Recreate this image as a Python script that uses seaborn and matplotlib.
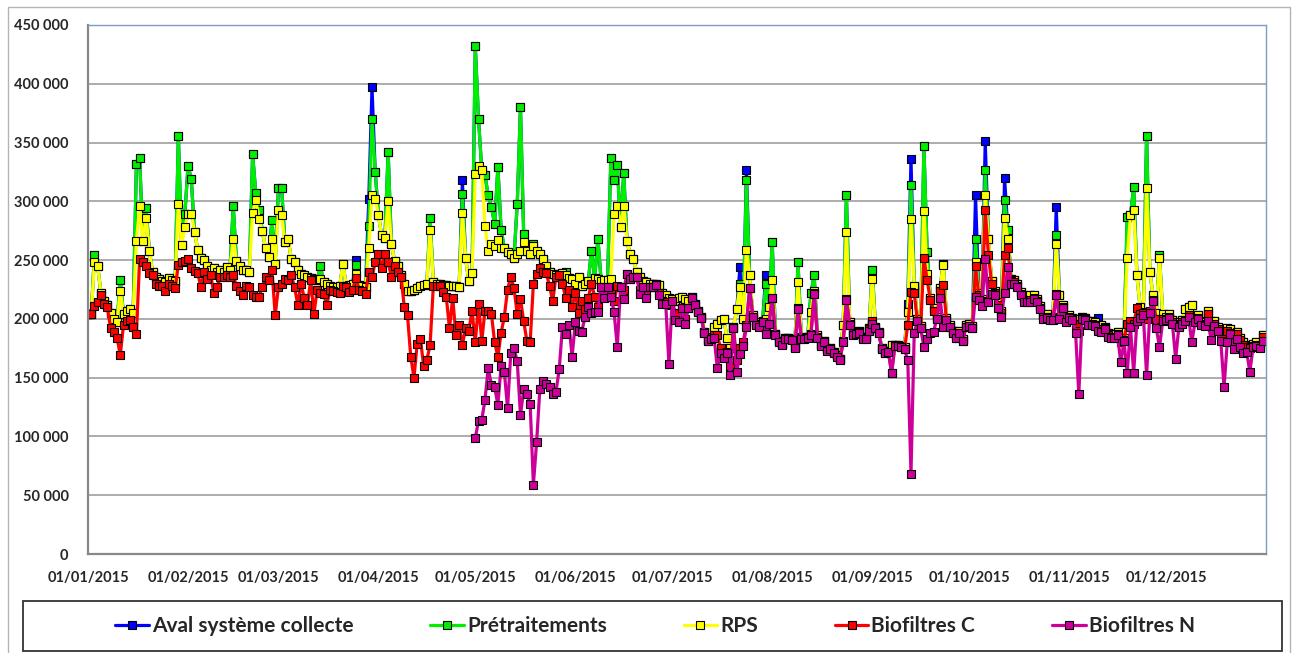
import matplotlib
matplotlib.use("Agg")
import matplotlib.dates as mdates
import matplotlib.pyplot as plt
import numpy as np
import pandas as pd
import seaborn as sns
from matplotlib.patches import Rectangle
from matplotlib.ticker import FuncFormatter, MultipleLocator

# daily flows 2015, values in thousands (one line per month)
aval = [
    204, 204, 254, 245, 222, 215, 212, 205, 200, 197, 233, 204, 207, 208, 205, 332, 337, 266, 294, 258, 240, 236, 234, 232, 231, 235, 233, 232, 356, 263, 289,
    330, 319, 274, 259, 252, 250, 245, 242, 243, 240, 242, 240, 244, 242, 296, 249, 245, 242, 242, 240, 340, 307, 293, 275, 260, 253, 284, 247,
    311, 311, 265, 268, 251, 248, 242, 238, 237, 236, 235, 234, 233, 245, 231, 230, 228, 227, 227, 228, 247, 228, 229, 230, 250, 229, 228, 227, 302, 397, 325,
    288, 271, 269, 342, 264, 249, 245, 237, 230, 224, 224, 225, 226, 228, 229, 230, 286, 231, 230, 230, 229, 229, 228, 228, 228, 227, 318, 252, 232, 239,
    432, 370, 327, 322, 305, 295, 281, 329, 276, 260, 257, 255, 252, 298, 380, 272, 258, 255, 264, 258, 255, 251, 245, 240, 238, 237, 236, 239, 240, 235, 234,
    230, 236, 228, 230, 232, 258, 235, 268, 232, 233, 233, 337, 318, 331, 278, 324, 266, 255, 251, 240, 236, 232, 231, 230, 230, 230, 229, 222, 220, 218,
    217, 215, 218, 219, 217, 215, 219, 213, 207, 202, 189, 182, 184, 193, 196, 199, 200, 184, 175, 193, 208, 244, 200, 327, 237, 203, 197, 195, 198, 237, 210,
    265, 187, 181, 179, 184, 184, 183, 176, 248, 185, 184, 185, 222, 237, 186, 178, 181, 174, 175, 172, 169, 166, 195, 305, 197, 188, 189, 190, 185, 185, 192,
    242, 193, 189, 175, 172, 173, 178, 178, 178, 177, 176, 213, 336, 228, 200, 194, 347, 257, 218, 209, 202, 226, 247, 201, 195, 190, 186, 190, 183, 195,
    196, 194, 305, 222, 217, 351, 268, 232, 224, 214, 207, 320, 276, 234, 233, 230, 223, 218, 218, 220, 220, 217, 211, 203, 204, 202, 202, 295, 220, 212, 200,
    203, 201, 198, 200, 202, 201, 198, 198, 197, 201, 195, 193, 188, 187, 187, 189, 183, 184, 287, 288, 312, 237, 210, 206, 356, 240, 220, 205, 254, 204,
    202, 204, 199, 197, 196, 199, 208, 210, 212, 200, 203, 198, 197, 207, 198, 198, 193, 190, 188, 192, 191, 187, 189, 184, 180, 178, 177, 179, 180, 178, 186,
]

pretraitements = [
    204, 204, 254, 245, 222, 215, 212, 205, 200, 197, 233, 204, 207, 208, 205, 332, 337, 266, 294, 258, 240, 236, 234, 232, 231, 235, 233, 232, 356, 263, 289,
    330, 319, 274, 259, 252, 250, 245, 242, 243, 240, 242, 240, 244, 242, 296, 249, 245, 242, 242, 240, 340, 307, 293, 275, 260, 253, 284, 247,
    311, 311, 265, 268, 251, 248, 242, 238, 237, 236, 235, 234, 233, 245, 231, 230, 228, 227, 227, 228, 247, 228, 229, 230, 246, 229, 228, 227, 279, 370, 325,
    288, 271, 269, 342, 264, 249, 245, 237, 230, 224, 224, 225, 226, 228, 229, 230, 286, 231, 230, 230, 229, 229, 228, 228, 228, 227, 306, 252, 232, 239,
    432, 370, 327, 322, 305, 295, 281, 329, 276, 260, 257, 255, 252, 298, 380, 272, 258, 255, 264, 258, 255, 251, 245, 240, 238, 237, 236, 239, 240, 235, 234,
    230, 236, 228, 230, 232, 258, 235, 268, 232, 233, 233, 337, 318, 331, 278, 324, 266, 255, 251, 240, 236, 232, 231, 230, 230, 230, 229, 222, 220, 218,
    217, 215, 218, 219, 217, 215, 219, 213, 207, 202, 189, 182, 184, 193, 196, 199, 200, 184, 175, 193, 208, 230, 200, 318, 237, 203, 197, 195, 198, 230, 210,
    265, 187, 181, 179, 184, 184, 183, 176, 248, 185, 184, 185, 222, 237, 186, 178, 181, 174, 175, 172, 169, 166, 195, 305, 197, 188, 189, 190, 185, 185, 192,
    242, 193, 189, 175, 172, 173, 178, 178, 178, 177, 176, 207, 314, 228, 200, 194, 347, 257, 218, 209, 202, 226, 247, 201, 195, 190, 186, 190, 183, 195,
    196, 194, 268, 222, 217, 327, 268, 232, 224, 214, 207, 301, 276, 234, 233, 230, 223, 218, 218, 220, 220, 217, 211, 203, 204, 202, 202, 271, 220, 212, 200,
    203, 201, 198, 200, 202, 201, 198, 198, 197, 195, 195, 193, 188, 187, 187, 189, 183, 184, 287, 288, 312, 237, 210, 206, 356, 240, 220, 205, 254, 204,
    202, 204, 199, 197, 196, 199, 208, 210, 212, 200, 203, 198, 197, 207, 198, 198, 193, 190, 188, 192, 191, 187, 189, 184, 180, 178, 177, 179, 180, 178, 186,
]

rps = [
    204, 204, 248, 245, 222, 215, 212, 205, 200, 197, 224, 204, 207, 208, 205, 266, 296, 266, 286, 258, 240, 236, 234, 232, 231, 235, 233, 232, 298, 263, 278,
    289, 289, 274, 259, 252, 250, 245, 242, 243, 240, 242, 240, 244, 242, 268, 249, 245, 242, 242, 240, 290, 301, 285, 275, 260, 253, 268, 247,
    293, 288, 265, 268, 251, 248, 242, 238, 237, 236, 235, 234, 233, 234, 231, 230, 228, 227, 227, 228, 247, 228, 229, 230, 238, 229, 228, 227, 260, 305, 302,
    288, 271, 269, 300, 264, 249, 245, 237, 230, 224, 224, 225, 226, 228, 229, 230, 276, 231, 230, 230, 229, 229, 228, 228, 228, 227, 290, 252, 232, 239,
    323, 330, 327, 279, 258, 264, 262, 267, 260, 260, 257, 255, 252, 255, 258, 265, 258, 255, 262, 258, 255, 251, 245, 240, 238, 237, 236, 239, 237, 235, 234,
    230, 236, 228, 230, 232, 230, 235, 234, 232, 233, 233, 234, 289, 296, 278, 296, 266, 255, 251, 240, 236, 232, 231, 230, 230, 230, 229, 222, 220, 218,
    217, 215, 218, 219, 217, 215, 219, 213, 207, 202, 189, 182, 184, 193, 196, 199, 200, 184, 175, 193, 208, 227, 200, 259, 237, 203, 197, 195, 198, 200, 210,
    233, 187, 181, 179, 184, 184, 183, 176, 231, 185, 184, 185, 206, 224, 186, 178, 181, 174, 175, 172, 169, 166, 195, 274, 197, 188, 189, 190, 185, 185, 192,
    234, 193, 189, 175, 172, 173, 178, 178, 178, 177, 176, 206, 285, 228, 200, 194, 292, 238, 218, 209, 202, 226, 246, 201, 195, 190, 186, 190, 183, 195,
    196, 194, 248, 222, 217, 305, 268, 232, 224, 214, 207, 286, 268, 234, 233, 230, 223, 218, 218, 220, 220, 217, 211, 203, 204, 202, 202, 264, 220, 212, 200,
    203, 201, 198, 200, 202, 201, 198, 198, 197, 195, 195, 193, 188, 187, 187, 189, 183, 184, 252, 288, 293, 237, 210, 206, 311, 240, 220, 205, 252, 204,
    202, 204, 199, 197, 196, 199, 208, 210, 212, 200, 203, 198, 197, 207, 198, 198, 193, 190, 188, 192, 191, 187, 189, 184, 180, 178, 177, 179, 180, 178, 186,
]

biofiltres_c = [
    204, 204, 211, 214, 220, 213, 210, 192, 189, 184, 169, 195, 198, 199, 193, 187, 251, 248, 245, 239, 237, 230, 228, 228, 224, 230, 228, 226, 246, 248, 249,
    251, 243, 241, 239, 227, 240, 234, 237, 222, 227, 236, 236, 237, 236, 237, 228, 224, 220, 228, 227, 220, 219, 219, 227, 236, 233, 242, 203,
    227, 230, 234, 233, 237, 227, 212, 230, 218, 212, 233, 204, 225, 222, 221, 212, 225, 224, 223, 222, 228, 227, 223, 225, 235, 225, 224, 221, 240, 236, 248,
    255, 243, 255, 248, 236, 245, 240, 236, 210, 203, 168, 150, 179, 183, 160, 165, 178, 228, 228, 228, 223, 219, 192, 218, 186, 195, 178, 192, 190, 207,
    180, 213, 181, 207, 207, 204, 180, 168, 188, 202, 225, 236, 226, 204, 217, 198, 181, 180, 230, 238, 243, 240, 239, 228, 215, 236, 237, 230, 218, 225, 210,
    222, 205, 215, 208, 218, 230, 219, 210, 227, 222, 227, 225, 215, 228, 227, 225, 238, 234, 236, 236, 225, 227, 222, 227, 227, 229, 222, 215, 214, 212,
    215, 205, 205, 209, 200, 209, 218, 212, 206, 201, 188, 181, 185, 186, 186, 175, 170, 172, 160, 192, 165, 175, 180, 195, 226, 202, 196, 194, 197, 188, 196,
    218, 187, 181, 179, 184, 184, 183, 176, 209, 184, 184, 185, 187, 222, 185, 178, 181, 174, 175, 172, 169, 166, 181, 217, 196, 187, 188, 189, 184, 184, 191,
    198, 192, 188, 174, 171, 172, 154, 177, 177, 176, 174, 195, 223, 222, 198, 192, 252, 233, 216, 207, 200, 224, 229, 199, 193, 188, 184, 188, 181, 193,
    194, 192, 245, 220, 215, 293, 254, 230, 222, 212, 205, 254, 260, 232, 231, 228, 221, 215, 215, 216, 218, 215, 209, 201, 202, 200, 200, 221, 201, 210, 198,
    202, 200, 196, 190, 201, 200, 196, 196, 195, 191, 190, 192, 186, 185, 185, 187, 180, 182, 196, 198, 196, 209, 204, 205, 200, 207, 216, 200, 200, 200,
    200, 202, 197, 195, 194, 197, 199, 203, 198, 198, 201, 196, 195, 204, 196, 196, 191, 188, 186, 190, 188, 185, 187, 182, 178, 176, 175, 177, 178, 176, 185,
]

# Biofiltres N only measured from 01/05/2015
biofiltres_n = [
    99, 113, 114, 131, 158, 144, 142, 127, 160, 155, 124, 171, 175, 164, 118, 140, 136, 128, 59, 95, 140, 147, 145, 142, 136, 138, 157, 193, 187, 195, 168,
    197, 190, 189, 202, 210, 205, 206, 206, 227, 218, 227, 219, 206, 176, 227, 217, 238, 234, 236, 236, 221, 227, 218, 227, 227, 229, 220, 213, 213, 162,
    215, 199, 197, 209, 196, 209, 218, 212, 206, 201, 188, 181, 183, 184, 158, 171, 167, 171, 152, 192, 155, 170, 177, 193, 226, 202, 195, 193, 197, 187, 196,
    218, 186, 180, 178, 183, 183, 182, 175, 208, 183, 183, 184, 186, 221, 184, 177, 180, 173, 174, 171, 168, 165, 180, 216, 195, 186, 187, 188, 183, 183, 190,
    196, 192, 188, 174, 171, 172, 154, 177, 177, 176, 174, 165, 68, 188, 198, 192, 176, 183, 188, 189, 200, 218, 193, 199, 193, 188, 184, 188, 181, 193,
    194, 192, 219, 216, 211, 251, 214, 221, 220, 209, 202, 222, 244, 230, 230, 227, 220, 214, 214, 214, 217, 214, 208, 200, 201, 199, 199, 220, 200, 209, 197,
    201, 199, 188, 136, 200, 199, 195, 195, 194, 190, 189, 191, 185, 184, 184, 186, 163, 181, 154, 193, 154, 198, 201, 203, 152, 205, 215, 192, 176, 198,
    199, 201, 196, 166, 193, 196, 198, 202, 180, 197, 200, 195, 194, 198, 182, 194, 190, 181, 142, 180, 187, 174, 183, 176, 171, 172, 155, 176, 177, 175, 181,
]

labels = ["Aval système collecte", "Prétraitements", "RPS", "Biofiltres C", "Biofiltres N"]
colors = ["#0000ff", "#00ee00", "#ffff00", "#ff0000", "#cc0099"]

dates = pd.date_range("2015-01-01", "2015-12-31", freq="D")
dates_n = pd.date_range("2015-05-01", "2015-12-31", freq="D")
month_ticks = pd.date_range("2015-01-01", "2015-12-01", freq="MS")

sns.set_style("white")
plt.rcParams["font.family"] = ["Lato", "DejaVu Sans"]

W, H = 1298, 653
fig = plt.figure(figsize=(W / 100, H / 100), dpi=100)
ax = fig.add_axes([88 / W, 1 - 554 / H, (1266 - 88) / W, (554 - 25) / H])

series = [aval, pretraitements, rps, biofiltres_c, biofiltres_n]
for vals, label, color in zip(series, labels, colors):
    x = dates_n if len(vals) == len(dates_n) else dates
    sns.lineplot(
        x=x, y=np.array(vals) * 1000, ax=ax, color=color, lw=2.3,
        marker="s", ms=5.6, mfc=color, mec="black", mew=0.8,
        errorbar=None, legend=False,
    )

ax.set_xlim(pd.Timestamp("2015-01-01"), pd.Timestamp("2016-01-01"))
ax.set_ylim(0, 450000)
ax.yaxis.set_major_locator(MultipleLocator(50000))
ax.yaxis.set_major_formatter(FuncFormatter(lambda v, p: f"{int(v):,}".replace(",", " ")))
ax.set_xticks(month_ticks)
ax.xaxis.set_major_formatter(mdates.DateFormatter("%d/%m/%Y"))
ax.set_xlabel("")
ax.set_ylabel("")

ax.yaxis.grid(True, color="#a6a6a6", lw=1.3)
ax.set_axisbelow(True)
for side in ["left", "bottom"]:
    ax.spines[side].set_color("#888888")
    ax.spines[side].set_linewidth(1.6)
for side in ["top", "right"]:
    ax.spines[side].set_color("#7f9cc0")
    ax.spines[side].set_linewidth(1.0)

ax.tick_params(axis="y", length=5, width=1.2, color="#888888", pad=9, labelsize=10.5)
ax.tick_params(axis="x", length=4, width=1.2, color="#888888", pad=8, labelsize=10.5)
for t in ax.get_xticklabels() + ax.get_yticklabels():
    t.set_fontweight("bold")

# outer chart frame and legend box
fig.patches.append(Rectangle((8 / W, -0.05), (1290 - 8) / W, 1 - 7 / H + 0.05,
                             transform=fig.transFigure, fill=False, ec="#b4b4b4", lw=1.0))
fig.patches.append(Rectangle((23 / W, 1 - 651 / H), (1282 - 23) / W, 50 / H,
                             transform=fig.transFigure, fill=False, ec="#333333", lw=1.3))

handles = ax.get_lines()
fig.legend(handles, labels, loc="center", bbox_to_anchor=(655 / W, 1 - 626 / H), ncol=5,
           frameon=False, handlelength=1.6, handletextpad=0.15, columnspacing=3.7,
           prop={"weight": "bold", "size": 15})

fig.savefig("out.png", dpi=100)
